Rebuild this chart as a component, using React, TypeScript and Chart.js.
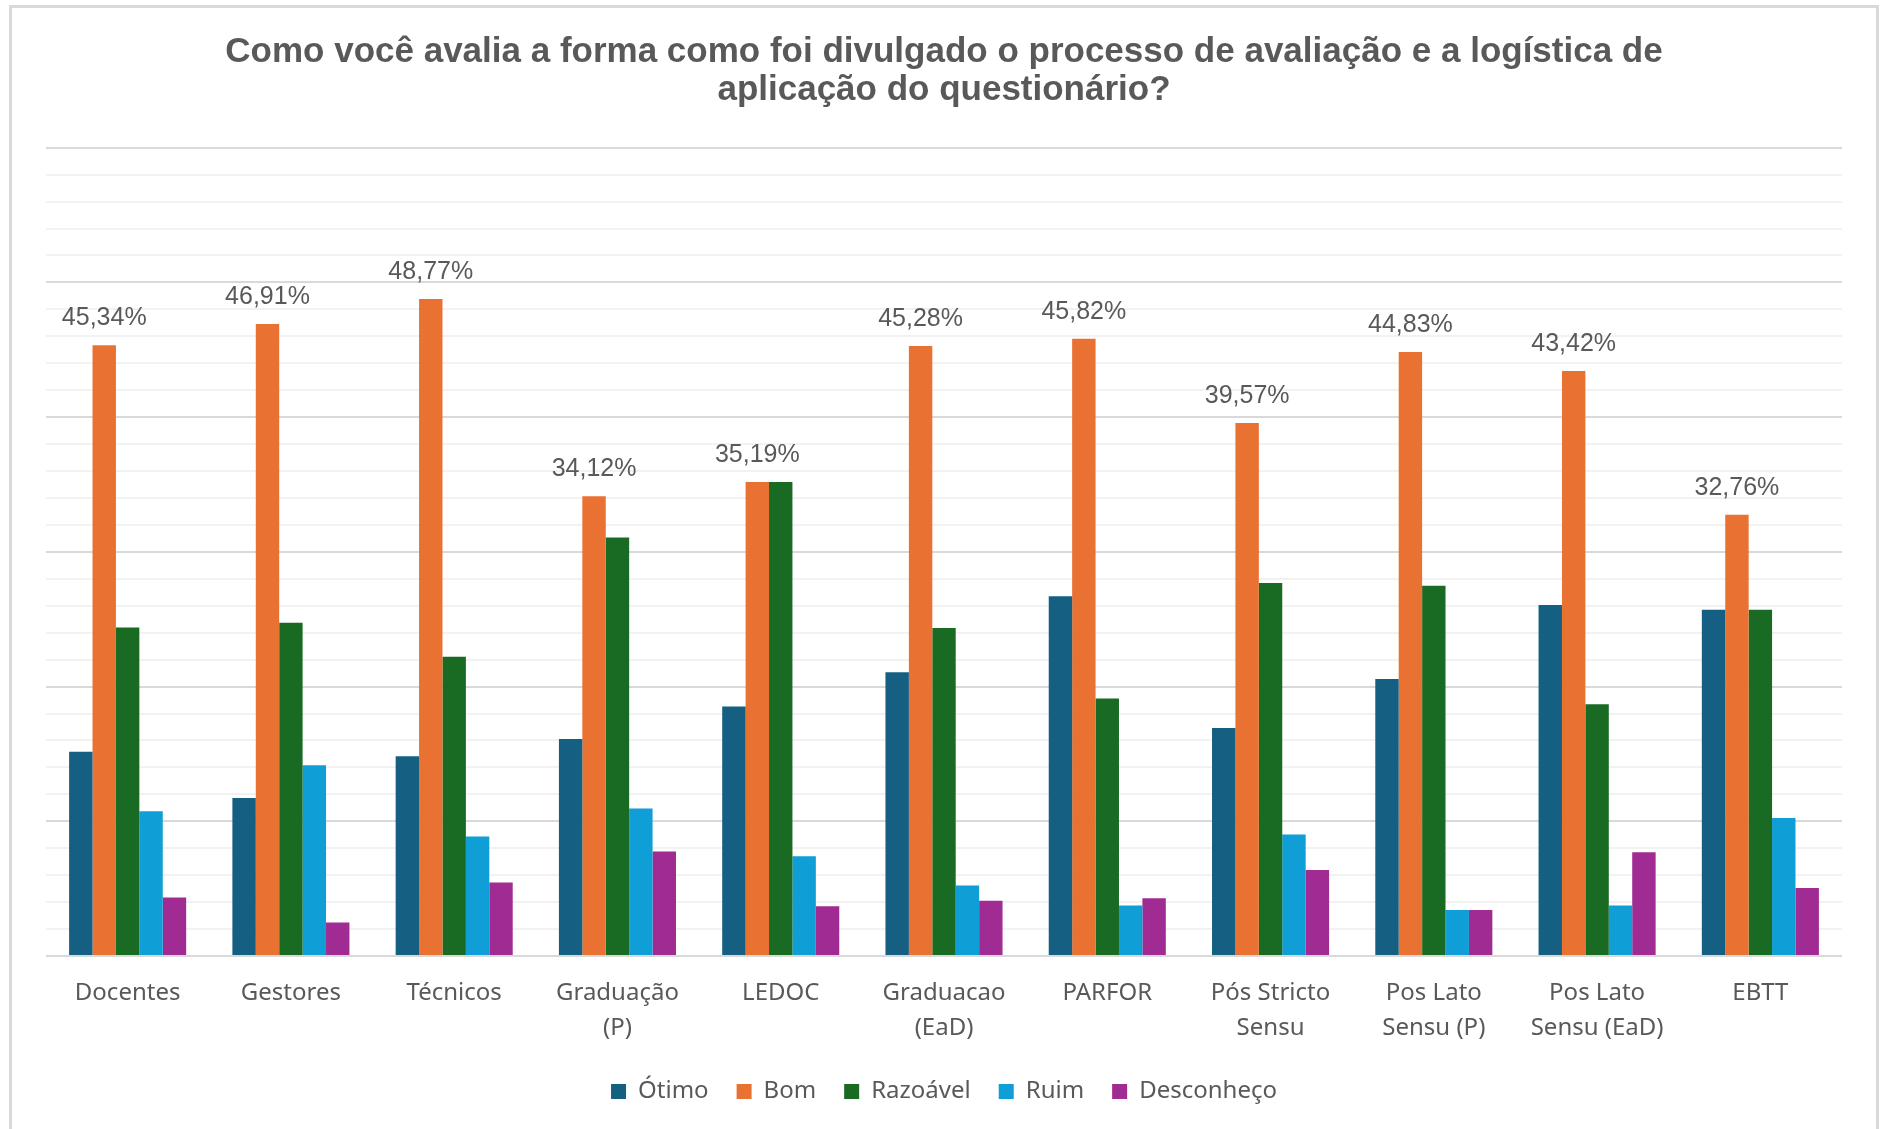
import React, { useEffect, useRef } from "react";
import { Chart, registerables } from "chart.js";

Chart.register(...registerables);

const titleLines = [
  "Como você avalia a forma como foi divulgado o processo de avaliação e a logística de",
  "aplicação do questionário?",
];

const categories: string[][] = [
  ["Docentes"],
  ["Gestores"],
  ["Técnicos"],
  ["Graduação", "(P)"],
  ["LEDOC"],
  ["Graduacao", "(EaD)"],
  ["PARFOR"],
  ["Pós Stricto", "Sensu"],
  ["Pos Lato", "Sensu (P)"],
  ["Pos Lato", "Sensu (EaD)"],
  ["EBTT"],
];

const otimo = [15.17, 11.73, 14.83, 16.1, 18.52, 21.06, 26.7, 16.92, 20.57, 26.06, 25.71];
const bom = [45.34, 46.91, 48.77, 34.12, 35.19, 45.28, 45.82, 39.57, 44.83, 43.42, 32.76];
const razoavel = [24.39, 24.73, 22.21, 31.06, 35.19, 24.35, 19.11, 27.68, 27.49, 18.69, 25.71];
const ruim = [10.75, 14.16, 8.87, 10.94, 7.4, 5.23, 3.74, 9.01, 3.42, 3.74, 10.25];
const desconheco = [4.34, 2.49, 5.46, 7.76, 3.69, 4.11, 4.29, 6.38, 3.42, 7.71, 5.05];

const seriesNames = ["Ótimo", "Bom", "Razoável", "Ruim", "Desconheço"];
const seriesColors = ["#156082", "#E97132", "#196B24", "#0F9ED5", "#A02B93"];

const yMin = 0;
const yMax = 60;
const yStep = 2;
const majorStep = 10;

const labelPlugin = {
  id: "bomLabels",
  afterDatasetsDraw(chart: any) {
    const meta = chart.getDatasetMeta(1);
    const ctx = chart.ctx;
    ctx.save();
    ctx.font = "25px 'Liberation Sans', Arial, sans-serif";
    ctx.fillStyle = "#595959";
    ctx.textAlign = "center";
    ctx.textBaseline = "alphabetic";
    meta.data.forEach((bar: any, i: number) => {
      const v = bom[i];
      const txt = v.toFixed(2).replace(".", ",") + "%";
      ctx.fillText(txt, bar.x, bar.y - 20);
    });
    ctx.restore();
  },
};

export default function App() {
  const ref = useRef<HTMLCanvasElement | null>(null);

  useEffect(() => {
    if (!ref.current) return;
    const data = [otimo, bom, razoavel, ruim, desconheco];
    const chart = new Chart(ref.current, {
      type: "bar",
      data: {
        labels: categories,
        datasets: data.map((d, i) => ({
          label: seriesNames[i],
          data: d,
          backgroundColor: seriesColors[i],
          borderWidth: 0,
          categoryPercentage: 0.717,
          barPercentage: 1.0,
        })),
      },
      options: {
        responsive: false,
        animation: false,
        devicePixelRatio: 1,
        layout: {
          padding: { left: 46, right: 43, top: 0, bottom: 15.5 },
        },
        plugins: {
          title: {
            display: true,
            text: titleLines,
            color: "#595959",
            font: { family: "'Liberation Sans', Arial, sans-serif", size: 35, weight: "bold", lineHeight: 37.5 / 35 },
            padding: { top: 34, bottom: 38.7 },
          },
          legend: {
            display: true,
            position: "bottom",
            labels: {
              color: "#595959",
              font: { family: "'Noto Sans', sans-serif", size: 24 },
              boxWidth: 15,
              boxHeight: 15,
              padding: 28,
            },
          },
          tooltip: { enabled: false },
        },
        scales: {
          x: {
            grid: { display: false, drawTicks: false },
            border: { display: false },
            afterFit: (scale: any) => {
              scale.height = 95.5;
            },
            ticks: {
              color: "#595959",
              font: { family: "'Noto Sans', sans-serif", size: 24, lineHeight: 35 / 24 },
              padding: 19.5,
              maxRotation: 0,
              autoSkip: false,
            },
          },
          y: {
            min: yMin,
            max: yMax,
            border: { display: false },
            ticks: { display: false, stepSize: yStep },
            grid: {
              drawTicks: false,
              lineWidth: 2,
              color: (ctx: any) => {
                const v = ctx.tick ? ctx.tick.value : 0;
                return Math.round(v) % majorStep === 0 ? "#d9d9d9" : "#f2f2f2";
              },
            },
          },
        },
      },
      plugins: [labelPlugin],
    });
    return () => chart.destroy();
  }, []);

  return (
    <div style={{ position: "absolute", left: 0, top: 0, width: 1885, height: 1129, background: "#fff", overflow: "hidden" }}>
      <canvas ref={ref} width={1885} height={1129} style={{ position: "absolute", left: 0, top: 0, width: 1885, height: 1129 }} />
      <div
        style={{
          position: "absolute",
          left: 9,
          top: 5,
          width: 1870,
          height: 1200,
          borderTop: "3px solid #d9d9d9",
          borderLeft: "3px solid #d9d9d9",
          borderRight: "3px solid #d9d9d9",
          boxSizing: "border-box",
          pointerEvents: "none",
        }}
      />
    </div>
  );
}
